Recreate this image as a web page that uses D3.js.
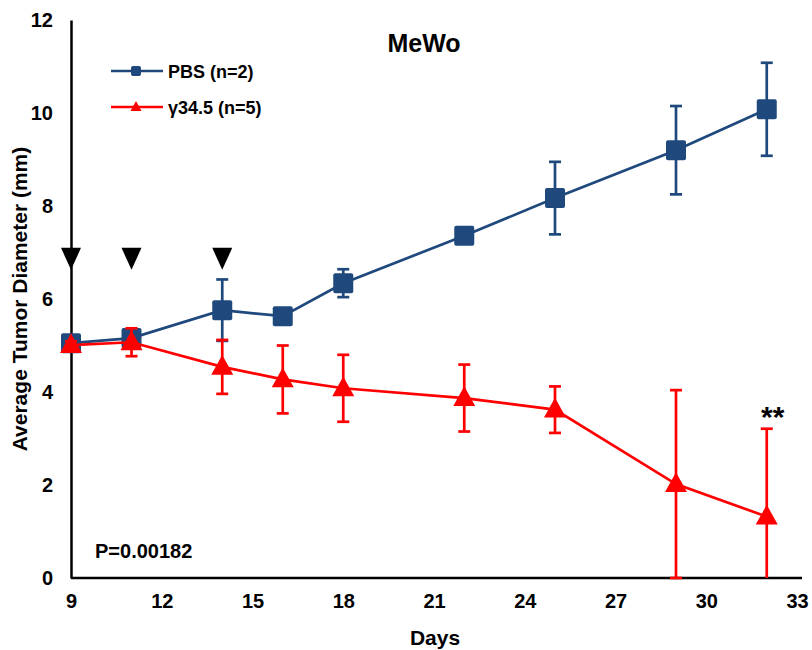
<!DOCTYPE html>
<html>
<head>
<meta charset="utf-8">
<script src="https://cdn.jsdelivr.net/npm/d3@7"></script>
<style>
  body { margin: 0; background: #fff; }
  svg text { font-family: Arial, "Liberation Sans", sans-serif; font-weight: bold; }
</style>
</head>
<body>
<div id="chart"></div>
<script>
// data
const days = [9, 11, 14, 16, 18, 22, 25, 29, 32];
const pbsMean = [5.05, 5.16, 5.76, 5.63, 6.34, 7.36, 8.17, 9.2, 10.08];
const pbsErr = [0.05, 0.1, 0.66, 0.12, 0.3, 0.1, 0.78, 0.95, 1.0];
const g345Mean = [5.01, 5.07, 4.54, 4.27, 4.08, 3.87, 3.62, 2.02, 1.32];
const g345Err = [0.08, 0.3, 0.58, 0.73, 0.72, 0.72, 0.5, 2.02, 1.89];
const treatmentDays = [9, 11, 14];
const xTicks = [9, 12, 15, 18, 21, 24, 27, 30, 33];
const yTicks = [0, 2, 4, 6, 8, 10, 12];

const series = [
  { name: "PBS (n=2)", mean: pbsMean, err: pbsErr, color: "#1F497D", shape: "square" },
  { name: "\u03b334.5 (n=5)", mean: g345Mean, err: g345Err, color: "#FF0000", shape: "triangle" }
];

const width = 812, height = 650;
const svg = d3.select("#chart").append("svg").attr("width", width).attr("height", height);

const x = d3.scaleLinear().domain([9, 33]).range([71, 797]);
const y = d3.scaleLinear().domain([0, 12]).range([578, 20]);

// axes
const xAxis = svg.append("g")
  .attr("transform", `translate(0,${y(0)})`)
  .call(d3.axisBottom(x).tickValues(xTicks).tickSize(0).tickPadding(16).tickFormat(d3.format("d")));
xAxis.select(".domain").attr("stroke", "#000").attr("stroke-width", 2.5).attr("d", `M${x(9)},0H${x(33) + 5}`);
xAxis.selectAll("text").attr("font-size", 20).attr("fill", "#000");

const yAxis = svg.append("g")
  .attr("transform", `translate(${x(9)},0)`)
  .call(d3.axisLeft(y).tickValues(yTicks).tickSize(0).tickPadding(18).tickFormat(d3.format("d")));
yAxis.select(".domain").attr("stroke", "#000").attr("stroke-width", 2.5);
yAxis.selectAll("text").attr("font-size", 20).attr("fill", "#000");

// axis titles
svg.append("text").attr("x", 435).attr("y", 645).attr("text-anchor", "middle")
  .attr("font-size", 21).text("Days");
svg.append("text").attr("transform", `translate(27,${y(6)}) rotate(-90)`)
  .attr("text-anchor", "middle").attr("font-size", 21).text("Average Tumor Diameter (mm)");

// title
svg.append("text").attr("x", 424).attr("y", 52).attr("text-anchor", "middle")
  .attr("font-size", 25).text("MeWo");

const line = d3.line().x(d => x(d[0])).y(d => y(d[1]));
const sw = 2.7;

function drawMarker(sel, shape, color, size) {
  if (shape === "square") {
    sel.append("rect").attr("x", -size / 2).attr("y", -size / 2)
      .attr("width", size).attr("height", size).attr("rx", 2).attr("fill", color);
  } else {
    const h = size * 0.9;
    sel.append("path").attr("d", `M0,${-h * 0.6}L${size / 2},${h * 0.4}L${-size / 2},${h * 0.4}Z`)
      .attr("fill", color);
  }
}

series.forEach(s => {
  const g = svg.append("g");
  const pts = days.map((d, i) => [d, s.mean[i], s.err[i]]);

  // error bars
  const eb = g.selectAll(".eb").data(pts).enter().append("g").attr("class", "eb");
  eb.append("line")
    .attr("x1", d => x(d[0])).attr("x2", d => x(d[0]))
    .attr("y1", d => y(d[1] + d[2])).attr("y2", d => y(Math.max(0, d[1] - d[2])))
    .attr("stroke", s.color).attr("stroke-width", sw);
  eb.append("line")
    .attr("x1", d => x(d[0]) - 6).attr("x2", d => x(d[0]) + 6)
    .attr("y1", d => y(d[1] + d[2])).attr("y2", d => y(d[1] + d[2]))
    .attr("stroke", s.color).attr("stroke-width", sw);
  eb.filter(d => d[1] - d[2] >= 0).append("line")
    .attr("x1", d => x(d[0]) - 6).attr("x2", d => x(d[0]) + 6)
    .attr("y1", d => y(d[1] - d[2])).attr("y2", d => y(d[1] - d[2]))
    .attr("stroke", s.color).attr("stroke-width", sw);

  g.append("path").datum(pts).attr("d", line)
    .attr("fill", "none").attr("stroke", s.color).attr("stroke-width", sw);

  g.selectAll(".mk").data(pts).enter().append("g").attr("class", "mk")
    .attr("transform", d => `translate(${x(d[0])},${y(d[1])})`)
    .each(function () { drawMarker(d3.select(this), s.shape, s.color, s.shape === "square" ? 20 : 22); });
});

// treatment arrows
svg.selectAll(".arrow").data(treatmentDays).enter().append("path")
  .attr("class", "arrow")
  .attr("d", d => `M${x(d) - 10},${y(7.1)}L${x(d) + 10},${y(7.1)}L${x(d)},${y(7.1) + 22}Z`)
  .attr("fill", "#000");

// legend
const legend = svg.append("g").attr("transform", "translate(111,71)");
series.forEach((s, i) => {
  const row = legend.append("g").attr("transform", `translate(0,${i * 36})`);
  row.append("line").attr("x1", 0).attr("x2", 52).attr("y1", 0).attr("y2", 0)
    .attr("stroke", s.color).attr("stroke-width", 2.4);
  const m = row.append("g").attr("transform", "translate(25,0)");
  drawMarker(m, s.shape, s.color, s.shape === "square" ? 10 : 11);
  row.append("text").attr("x", 57).attr("y", 7).attr("font-size", 18).text(s.name);
});

// annotations
svg.append("text").attr("x", 95).attr("y", 558).attr("font-size", 20).text("P=0.00182");
svg.append("text").attr("x", x(32) + 6).attr("y", y(3.2) - 2).attr("text-anchor", "middle")
  .attr("font-size", 30).text("**");
</script>
</body>
</html>
